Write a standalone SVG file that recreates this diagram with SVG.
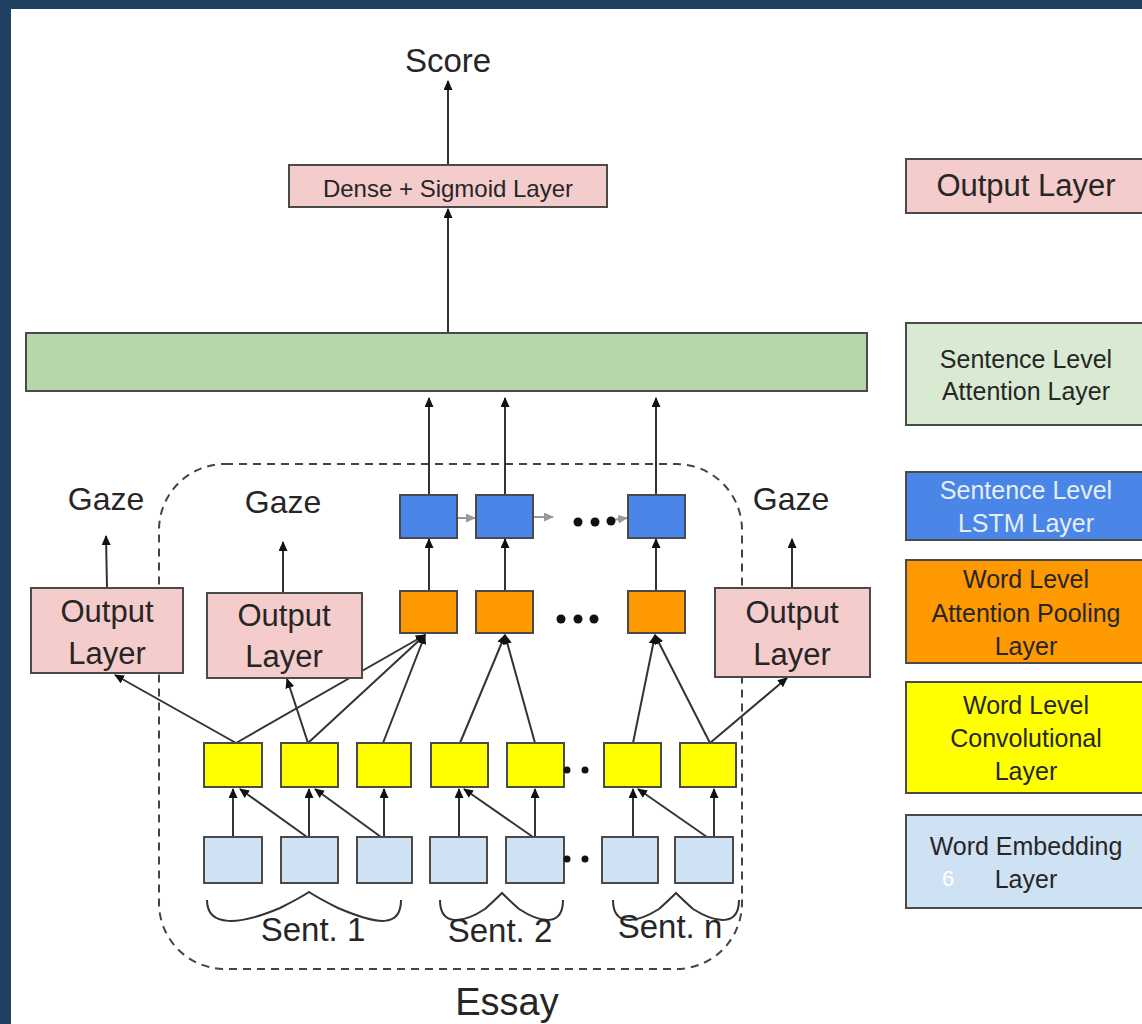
<svg xmlns="http://www.w3.org/2000/svg" width="1142" height="1024" viewBox="0 0 1142 1024">
<defs>
<style>
.t{font-family:"Liberation Sans",Arial,sans-serif;fill:#262626;text-anchor:middle}
.box{stroke:#4a4a4a;stroke-width:2}
.pink{fill:#f4cccc}
.green{fill:#b6d7a8}
.blue{fill:#4a86e8}
.orange{fill:#ff9900}
.yellow{fill:#ffff00}
.lb{fill:#cfe2f3}
.ln{stroke:#333;stroke-width:2;fill:none}
.arr{marker-end:url(#ah)}
.gray{stroke:#999;stroke-width:2;fill:none;marker-end:url(#ahg)}
.dot{fill:#111}
</style>
<marker id="ah" markerUnits="userSpaceOnUse" markerWidth="10" markerHeight="9" viewBox="0 0 10 9" refX="9" refY="4.5" orient="auto">
<path d="M0,0 L10,4.5 L0,9 z" fill="#111"/>
</marker>
<marker id="ahg" markerUnits="userSpaceOnUse" markerWidth="10" markerHeight="9" viewBox="0 0 10 9" refX="9" refY="4.5" orient="auto">
<path d="M0,0 L10,4.5 L0,9 z" fill="#999"/>
</marker>
</defs>
<rect x="0" y="0" width="1142" height="1024" fill="#1f4060"/>
<rect x="11" y="9" width="1131" height="1015" fill="#ffffff"/>

<g id="essay-boundary">
<rect x="159" y="464" width="583" height="505" rx="66" ry="66" fill="none" stroke="#444" stroke-width="2" stroke-dasharray="8,6"/>
</g>

<g id="connectors">
<line class="ln arr" x1="448" y1="165" x2="448" y2="81"/>
<line class="ln arr" x1="448" y1="333" x2="448" y2="209"/>
<line class="ln arr" x1="429" y1="495" x2="429" y2="398"/>
<line class="ln arr" x1="505" y1="495" x2="505" y2="398"/>
<line class="ln arr" x1="656" y1="495" x2="656" y2="398"/>
<line class="ln arr" x1="429" y1="591" x2="429" y2="539"/>
<line class="ln arr" x1="505" y1="591" x2="505" y2="539"/>
<line class="ln arr" x1="656" y1="591" x2="656" y2="539"/>
<line class="gray" x1="458" y1="518" x2="475" y2="518"/>
<line class="gray" x1="534" y1="517" x2="553" y2="517"/>
<line class="gray" x1="612" y1="520" x2="627" y2="518"/>
<line class="ln arr" x1="107" y1="588" x2="106" y2="536"/>
<line class="ln arr" x1="283" y1="593" x2="283" y2="542"/>
<line class="ln arr" x1="792" y1="588" x2="792" y2="539"/>
<line class="ln arr" x1="236" y1="743" x2="115" y2="675"/>
<line class="ln arr" x1="236" y1="743" x2="425" y2="635"/>
<line class="ln arr" x1="308" y1="743" x2="287" y2="679"/>
<line class="ln arr" x1="308" y1="743" x2="425" y2="635"/>
<line class="ln arr" x1="383" y1="743" x2="425" y2="635"/>
<line class="ln arr" x1="460" y1="743" x2="505" y2="635"/>
<line class="ln arr" x1="535" y1="743" x2="505" y2="635"/>
<line class="ln arr" x1="633" y1="743" x2="655" y2="635"/>
<line class="ln arr" x1="710" y1="743" x2="655" y2="635"/>
<line class="ln arr" x1="710" y1="743" x2="787" y2="678"/>
<line class="ln arr" x1="233" y1="837" x2="233" y2="789"/>
<line class="ln arr" x1="309" y1="837" x2="309" y2="789"/>
<line class="ln arr" x1="384" y1="837" x2="384" y2="789"/>
<line class="ln arr" x1="459" y1="837" x2="459" y2="789"/>
<line class="ln arr" x1="535" y1="837" x2="535" y2="789"/>
<line class="ln arr" x1="633" y1="837" x2="633" y2="789"/>
<line class="ln arr" x1="714" y1="837" x2="714" y2="789"/>
<line class="ln arr" x1="307" y1="837" x2="240" y2="789"/>
<line class="ln arr" x1="381" y1="837" x2="315" y2="789"/>
<line class="ln arr" x1="533" y1="837" x2="464" y2="789"/>
<line class="ln arr" x1="707" y1="837" x2="638" y2="789"/>
</g>

<g id="score"><text class="t" x="448" y="72" font-size="33">Score</text></g>
<g id="dense">
<rect class="box pink" x="289" y="165" width="318" height="42"/>
<text class="t" x="448" y="197" font-size="24">Dense + Sigmoid Layer</text>
</g>
<g id="sentence-attention"><rect class="box green" x="26" y="333" width="841" height="58"/></g>

<g id="lstm">
<rect class="box blue" x="400" y="495" width="57" height="43"/>
<rect class="box blue" x="476" y="495" width="57" height="43"/>
<rect class="box blue" x="628" y="495" width="57" height="43"/>
<circle class="dot" cx="578" cy="522" r="4.5"/>
<circle class="dot" cx="595" cy="522" r="4.5"/>
<circle class="dot" cx="611" cy="521" r="4.5"/>
</g>
<g id="attention-pooling">
<rect class="box orange" x="400" y="591" width="57" height="42"/>
<rect class="box orange" x="476" y="591" width="57" height="42"/>
<rect class="box orange" x="628" y="591" width="57" height="42"/>
<circle class="dot" cx="561" cy="619" r="4.5"/>
<circle class="dot" cx="578" cy="619" r="4.5"/>
<circle class="dot" cx="594" cy="619" r="4.5"/>
</g>

<g id="gaze1">
<text class="t" x="106" y="510" font-size="32">Gaze</text>
<rect class="box pink" x="31" y="588" width="152" height="85"/>
<text class="t" x="107" y="622" font-size="31">Output</text>
<text class="t" x="107" y="664" font-size="31">Layer</text>
</g>
<g id="gaze2">
<text class="t" x="283" y="513" font-size="32">Gaze</text>
<rect class="box pink" x="207" y="593" width="155" height="85"/>
<text class="t" x="284" y="626" font-size="31">Output</text>
<text class="t" x="284" y="667" font-size="31">Layer</text>
</g>
<g id="gaze3">
<text class="t" x="791" y="510" font-size="32">Gaze</text>
<rect class="box pink" x="715" y="588" width="155" height="89"/>
<text class="t" x="792" y="623" font-size="31">Output</text>
<text class="t" x="792" y="665" font-size="31">Layer</text>
</g>

<g id="convolution">
<rect class="box yellow" x="204" y="743" width="58" height="44"/>
<rect class="box yellow" x="281" y="743" width="57" height="44"/>
<rect class="box yellow" x="357" y="743" width="54" height="44"/>
<rect class="box yellow" x="431" y="743" width="57" height="44"/>
<rect class="box yellow" x="507" y="743" width="57" height="44"/>
<rect class="box yellow" x="604" y="743" width="57" height="44"/>
<rect class="box yellow" x="680" y="743" width="56" height="44"/>
<circle class="dot" cx="567" cy="770" r="3.5"/>
<circle class="dot" cx="585" cy="770" r="3.5"/>
</g>
<g id="embedding">
<rect class="box lb" x="204" y="837" width="58" height="46"/>
<rect class="box lb" x="281" y="837" width="57" height="46"/>
<rect class="box lb" x="357" y="837" width="55" height="46"/>
<rect class="box lb" x="430" y="837" width="57" height="46"/>
<rect class="box lb" x="506" y="837" width="58" height="46"/>
<rect class="box lb" x="602" y="837" width="56" height="46"/>
<rect class="box lb" x="675" y="837" width="58" height="46"/>
<circle class="dot" cx="567" cy="859" r="3.5"/>
<circle class="dot" cx="585" cy="859" r="3.5"/>
</g>

<g id="sentences">
<path class="ln" stroke-width="1.8" d="M207,900 C207,928 240,925 280,908 Q300,898 309,892 Q318,898 338,908 C378,925 401,928 401,900"/>
<path class="ln" stroke-width="1.8" d="M440,900 C440,926 462,924 485,909 Q496,899 502,893 Q508,899 519,909 C542,924 563,926 563,900"/>
<path class="ln" stroke-width="1.8" d="M613,900 C613,926 635,924 659,909 Q670,899 676,893 Q682,899 693,909 C717,924 739,926 739,900"/>
<text class="t" x="313" y="941" font-size="33">Sent. 1</text>
<text class="t" x="500" y="942" font-size="33">Sent. 2</text>
<text class="t" x="670" y="938" font-size="33">Sent. n</text>
</g>
<g id="essay-label"><text class="t" x="507" y="1015" font-size="38">Essay</text></g>

<g id="legend-output">
<rect class="box pink" x="906" y="159" width="250" height="54"/>
<text class="t" x="1026" y="196" font-size="31">Output Layer</text>
</g>
<g id="legend-sent-attn">
<rect class="box" fill="#d9ead3" x="906" y="323" width="250" height="102"/>
<text class="t" x="1026" y="368" font-size="25">Sentence Level</text>
<text class="t" x="1026" y="400" font-size="25">Attention Layer</text>
</g>
<g id="legend-lstm">
<rect class="box blue" x="906" y="472" width="250" height="68"/>
<text class="t" x="1026" y="499" font-size="25" style="fill:#e6eefb">Sentence Level</text>
<text class="t" x="1026" y="532" font-size="25" style="fill:#e6eefb">LSTM Layer</text>
</g>
<g id="legend-pool">
<rect class="box orange" x="906" y="560" width="250" height="103"/>
<text class="t" x="1026" y="588" font-size="25">Word Level</text>
<text class="t" x="1026" y="622" font-size="25">Attention Pooling</text>
<text class="t" x="1026" y="655" font-size="25">Layer</text>
</g>
<g id="legend-conv">
<rect class="box yellow" x="906" y="682" width="250" height="111"/>
<text class="t" x="1026" y="714" font-size="25">Word Level</text>
<text class="t" x="1026" y="747" font-size="25">Convolutional</text>
<text class="t" x="1026" y="780" font-size="25">Layer</text>
</g>
<g id="legend-embed">
<rect class="box lb" x="906" y="815" width="250" height="93"/>
<text class="t" x="1026" y="855" font-size="25">Word Embedding</text>
<text class="t" x="1026" y="888" font-size="25">Layer</text>
</g>
<text x="948" y="886" font-family="Liberation Sans, Arial, sans-serif" font-size="22" fill="#ffffff" text-anchor="middle">6</text>
</svg>
